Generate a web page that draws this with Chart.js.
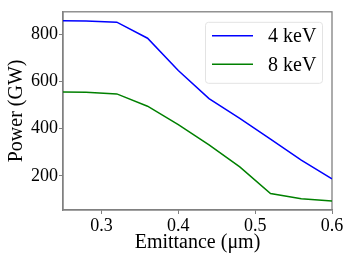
<!DOCTYPE html>
<html>
<head>
<meta charset="utf-8">
<script src="https://cdn.jsdelivr.net/npm/chart.js@4"></script>
<style>
  html, body { margin: 0; padding: 0; background: #fff; }
  #wrap { width: 353px; height: 265px; }
</style>
</head>
<body>
<div id="wrap"><canvas id="grafico" width="353" height="265"></canvas></div>
<script>
// Dados
const emitancia = [0.24, 0.28, 0.32, 0.36, 0.40, 0.44, 0.48, 0.52, 0.56, 0.60];
const potencia4keV = [857, 856, 851, 783, 646, 527, 443, 355, 266, 187];
const potencia8keV = [555, 554, 547, 495, 417, 331, 238, 125, 103, 93];
const xTicks = [0.3, 0.4, 0.5, 0.6];
const yTicks = [200, 400, 600, 800];

const fonte = "'Liberation Serif', 'DejaVu Serif', serif";
const cinza = '#808080';

function pares(xs, ys) {
    return xs.map((x, i) => ({ x: x, y: ys[i] }));
}

// moldura do gráfico + legenda dentro da área (canto superior direito)
const molduraPlugin = {
    id: 'moldura',
    beforeDatasetsDraw(chart) {
        const ctx = chart.ctx, a = chart.chartArea;
        ctx.save();
        ctx.strokeStyle = cinza;
        ctx.lineWidth = 1.3;
        ctx.strokeRect(a.left, a.top, a.right - a.left, a.bottom - a.top);
        ctx.restore();
    },
    afterDatasetsDraw(chart) {
        const ctx = chart.ctx, a = chart.chartArea;
        const w = 117, h = 61;
        const left = a.right - 10 - w, top = a.top + 10;
        ctx.save();
        ctx.fillStyle = 'rgba(255,255,255,0.85)';
        ctx.strokeStyle = '#e3e3e3';
        ctx.lineWidth = 1;
        ctx.beginPath();
        ctx.roundRect(left + 0.5, top + 0.5, w, h, 3);
        ctx.fill();
        ctx.stroke();
        ctx.font = '20px ' + fonte;
        ctx.textBaseline = 'middle';
        ctx.fillStyle = '#000';
        chart.data.datasets.forEach((ds, i) => {
            const y = top + 14 + i * 28.5;
            ctx.strokeStyle = ds.borderColor;
            ctx.lineWidth = 1.5;
            ctx.beginPath();
            ctx.moveTo(left + 7, y);
            ctx.lineTo(left + 48, y);
            ctx.stroke();
            ctx.fillText(ds.label, left + 63, y + 1);
        });
        ctx.restore();
    }
};

const ctx = document.getElementById('grafico').getContext('2d');
new Chart(ctx, {
    type: 'line',
    data: {
        datasets: [{
            label: '4 keV',
            data: pares(emitancia, potencia4keV),
            borderColor: '#0000ff',
            borderWidth: 1.5,
            pointRadius: 0,
            tension: 0
        }, {
            label: '8 keV',
            data: pares(emitancia, potencia8keV),
            borderColor: '#008000',
            borderWidth: 1.5,
            pointRadius: 0,
            tension: 0
        }]
    },
    options: {
        responsive: false,
        animation: false,
        layout: { padding: { top: 10, right: 21, left: 0, bottom: 0 } },
        plugins: {
            tooltip: { enabled: false },
            legend: { display: false }
        },
        scales: {
            x: {
                type: 'linear',
                min: 0.25,
                max: 0.6,
                afterFit(s) { s.height = 55; },
                afterBuildTicks(s) { s.ticks = xTicks.map(v => ({ value: v })); },
                grid: { drawOnChartArea: false, drawTicks: true, tickLength: 4, color: cinza },
                border: { display: true, color: cinza, width: 1.3 },
                ticks: {
                    font: { family: fonte, size: 18 },
                    color: '#000',
                    padding: 1,
                    maxRotation: 0,
                    callback: v => v.toFixed(1)
                },
                title: {
                    display: true,
                    text: 'Emittance (μm)',
                    font: { family: fonte, size: 20 },
                    color: '#000',
                    padding: { top: 0, bottom: 10 }
                }
            },
            y: {
                type: 'linear',
                min: 55,
                max: 895,
                afterFit(s) { s.width = 63; },
                afterBuildTicks(s) { s.ticks = yTicks.map(v => ({ value: v })); },
                grid: { drawOnChartArea: false, drawTicks: true, tickLength: 4, color: cinza },
                border: { display: true, color: cinza, width: 1.3 },
                ticks: {
                    font: { family: fonte, size: 18 },
                    color: '#000',
                    padding: 1
                },
                title: {
                    display: true,
                    text: 'Power (GW)',
                    font: { family: fonte, size: 20 },
                    color: '#000',
                    padding: { top: 5, bottom: 0 }
                }
            }
        }
    },
    plugins: [molduraPlugin]
});
</script>
</body>
</html>
